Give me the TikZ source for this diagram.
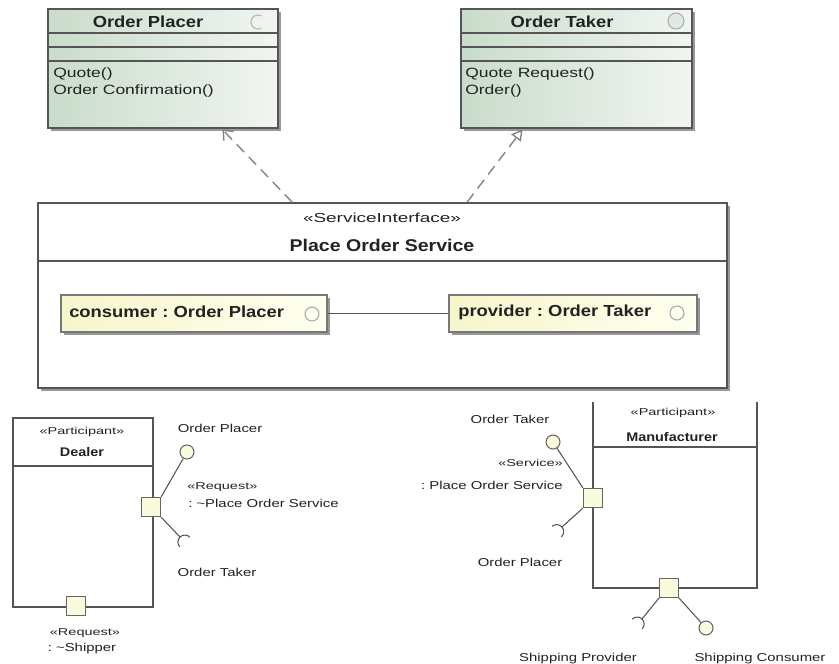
\documentclass[tikz,border=0pt]{standalone}
\usepackage{fontspec}
\setmainfont{Liberation Sans}
\newfontfamily\fTitle[FakeStretch=1.15]{Liberation Sans}
\newfontfamily\fText[FakeStretch=1.3]{Liberation Sans}
\newfontfamily\fStereo[FakeStretch=1.45]{Liberation Sans}
\usetikzlibrary{fit,arrows.meta,shadows,calc}

\definecolor{edge}{HTML}{555555}
\definecolor{clsA}{HTML}{C9DCCB}
\definecolor{clsB}{HTML}{F1F5F1}
\definecolor{partA}{HTML}{F6F6CC}
\definecolor{partB}{HTML}{FFFFF0}
\definecolor{portfill}{HTML}{FAFADC}
\definecolor{shadowc}{HTML}{999999}
\definecolor{ink}{HTML}{222222}

\tikzset{
  sh/.style={drop shadow={shadow xshift=2.2pt,shadow yshift=-2.2pt,fill=shadowc,opacity=1}},
  clsbox/.style={inner sep=0, draw=edge, line width=0.8pt, left color=clsA, right color=clsB, sh},
  partbox/.style={inner sep=0, draw=edge!80, line width=0.8pt, left color=partA, right color=partB, sh},
  frame/.style={inner sep=0, draw=edge, line width=1.3pt, fill=white},
  sep/.style={draw=edge, line width=0.8pt},
  port/.style={draw=edge!90, fill=portfill, line width=0.8pt, inner sep=0, minimum size=14.5pt},
  lolli/.style={circle, draw=edge!90, fill=portfill, line width=0.8pt, inner sep=0, minimum size=10.5pt},
  wire/.style={draw=edge, line width=0.8pt},
  dep/.style={draw=edge!75, line width=1pt, dash pattern=on 8pt off 5pt},
  ttl/.style={font=\fTitle\bfseries\fontsize{12pt}{14pt}\selectfont, inner sep=0, text=ink},
  bigttl/.style={font=\fTitle\bfseries\fontsize{12.75pt}{15pt}\selectfont, inner sep=0, text=ink},
  smallttl/.style={font=\fTitle\bfseries\fontsize{9.4pt}{11pt}\selectfont, inner sep=0, text=ink},
  mth/.style={font=\fText\fontsize{10.1pt}{12pt}\selectfont, inner sep=0, anchor=west, text=ink},
  lbl/.style={font=\fText\fontsize{8.6pt}{10pt}\selectfont, inner sep=0, text=ink},
  ster/.style={font=\fStereo\fontsize{7.5pt}{9pt}\selectfont, inner sep=0, text=ink},
  bigster/.style={font=\fStereo\fontsize{9.8pt}{11pt}\selectfont, inner sep=0, text=ink},
}

\begin{document}
\frenchspacing
\begin{tikzpicture}[x=0.75pt,y=-0.75pt]
\path[use as bounding box, fill=white] (0,0) rectangle (839,664);

% ---------- interface classes ----------
\node[clsbox, fit={(48,9)(278,128)}] (op) {};
\draw[sep] (48,33) -- (278,33);
\draw[sep] (48,47) -- (278,47);
\draw[sep] (48,61) -- (278,61);
\node[ttl] (opt) at (148,22) {Order Placer};
\draw[gray!55, line width=0.9pt] (258,22) ++(60:7) arc[start angle=60,end angle=300,radius=7];
\node[mth] (opm1) at (53,74) {Quote()};
\node[mth] (opm2) at (53,91) {Order Confirmation()};

\node[clsbox, fit={(461,9)(692,128)}] (ot) {};
\draw[sep] (461,33) -- (692,33);
\draw[sep] (461,47) -- (692,47);
\draw[sep] (461,61) -- (692,61);
\node[ttl] (ott) at (562,22) {Order Taker};
\node[circle, draw=gray!65, fill=clsA!60, line width=0.8pt, inner sep=0, minimum size=12pt] (oti) at (676,21) {};
\node[mth] (otm1) at (465,74) {Quote Request()};
\node[mth] (otm2) at (465,91) {Order()};

% ---------- service interface ----------
\node[frame, sh, fit={(38,203)(727,388)}] (svc) {};
\draw[draw=edge, line width=1.4pt] (38,261) -- (727,261);
\node[bigster] (svcs) at (382,218) {«ServiceInterface»};
\node[bigttl] (svct) at (382,245) {Place Order Service};

\draw[dep, -{Straight Barb[length=6pt,width=10pt]}]
  ($(svc.north west)+(255,0)$) -- ($(op.south west)+(175,1)$);
\draw[dep, -{Triangle[open,length=8pt,width=9pt,fill=white]}]
  ($(svc.north west)+(430,0)$) -- ($(ot.south west)+(62,1)$);

\node[partbox, fit={(61,295)(327,332)}] (cons) {};
\node[ttl, anchor=west] (const) at (69,312) {consumer : Order Placer};
\node[circle, draw=gray!70, fill=partB, line width=0.8pt, inner sep=0, minimum size=10.5pt] (consi) at (312,314) {};

\node[partbox, fit={(449,295)(697,332)}] (prov) {};
\node[ttl, anchor=west] (provt) at (458,312) {provider : Order Taker};
\node[circle, draw=gray!70, fill=partB, line width=0.8pt, inner sep=0, minimum size=10.5pt] (provi) at (677,313) {};

\draw[wire] (cons.east) -- (prov.west);

% ---------- Dealer ----------
\node[frame, fit={(13,418)(153,607)}] (dl) {};
\draw[sep] (13,466) -- (153,466);
\node[ster] (dls) at (82,432) {«Participant»};
\node[smallttl] (dlt) at (82,452) {Dealer};

\node[lolli] (dlol) at (187,452) {};
\coordinate (dsk) at (180,537);
\node[port] (dpr) at (151,507) {};
\draw[wire] (dpr.north east) -- (dlol);
\draw[wire] (dpr.south east) -- (dsk);
\draw[wire] ($(dsk)+(46:7)$) ++(136:7) arc[start angle=136,end angle=316,radius=7];
\node[port, minimum size=14pt] (dpb) at (76,606) {};

\node[lbl] (l1) at (220,428) {Order Placer};
\node[ster, anchor=west] (l2) at (187,487) {«Request»};
\node[lbl, anchor=west] (l3) at (188,503) {: \textasciitilde Place Order Service};
\node[lbl] (l4) at (217,572) {Order Taker};
\node[ster] (l5) at (85,633) {«Request»};
\node[lbl] (l6) at (82,649) {: \textasciitilde Shipper};

% ---------- Manufacturer ----------
\node[inner sep=0, fit={(593,402)(757,588)}] (mf) {};
\draw[draw=edge, line width=1.3pt] (mf.north west) -- (mf.south west) -- (mf.south east) -- (mf.north east);
\draw[sep] (593,447) -- (757,447);
\node[ster] (mfs) at (673,413) {«Participant»};
\node[smallttl] (mft) at (672,437) {Manufacturer};

\node[lolli] (mlol) at (553,442) {};
\coordinate (msk) at (562,527);
\node[port] (mpl) at (593,498) {};
\draw[wire] (mpl.north west) -- (mlol);
\draw[wire] (mpl.south west) -- (msk);
\draw[wire] ($(msk)+(139:7)$) ++(229:7) arc[start angle=229,end angle=409,radius=7];

\node[lolli] (mlol2) at (706,628) {};
\coordinate (msk2) at (642,619);
\node[port, minimum size=14pt] (mpb) at (669,588) {};
\draw[wire] (mpb.south east) -- (mlol2);
\draw[wire] (mpb.south west) -- (msk2);
\draw[wire] ($(msk2)+(134:7)$) ++(224:7) arc[start angle=224,end angle=404,radius=7];

\node[lbl] (m1) at (510,419) {Order Taker};
\node[ster, anchor=east] (m2) at (563,463) {«Service»};
\node[lbl, anchor=east] (m3) at (563,485) {: Place Order Service};
\node[lbl] (m4) at (520,562) {Order Placer};
\node[lbl] (m5) at (578,659) {Shipping Provider};
\node[lbl] (m6) at (760,659) {Shipping Consumer};
\end{tikzpicture}
\end{document}
